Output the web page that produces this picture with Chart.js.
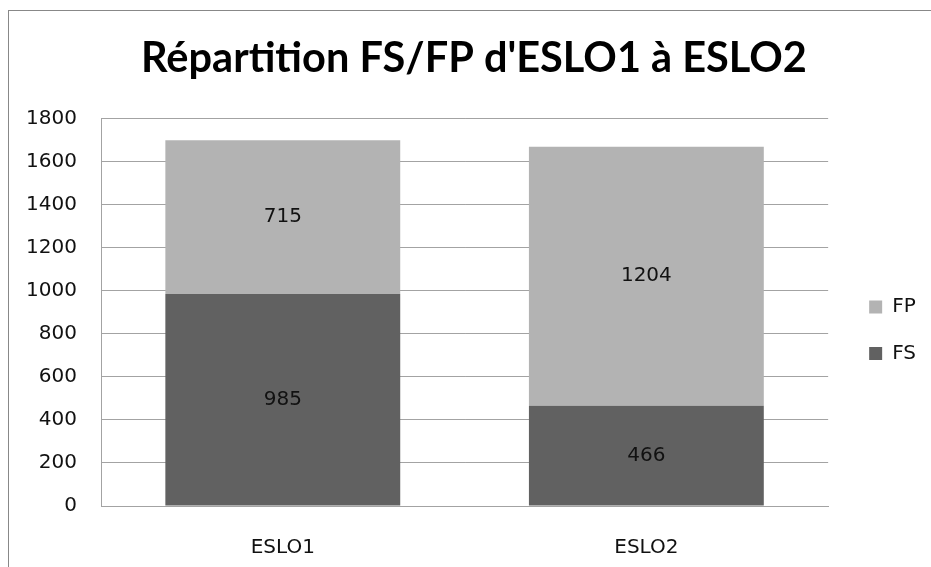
<!DOCTYPE html>
<html>
<head>
<meta charset="utf-8">
<script src="https://cdn.jsdelivr.net/npm/chart.js@4.4.1/dist/chart.umd.min.js"></script>
<style>
  html, body { margin:0; padding:0; background:#fff; overflow:hidden; }
  #wrap { position:relative; width:931px; height:567px; }
  #frame { position:absolute; left:8px; top:10px; width:1000px; height:1000px; border:1px solid #888; pointer-events:none; }
  canvas { position:absolute; left:0; top:0; }
</style>
</head>
<body>
<div id="wrap">
  <canvas id="chart" width="931" height="567"></canvas>
  <div id="frame"></div>
</div>
<script>
const categories = ['ESLO1', 'ESLO2'];
const fsValues = [985, 466];
const fpValues = [715, 1204];
const yMin = 0;
const yMax = 1800;
const yStep = 200;

const gridColor = '#a3a3a3';
const smallFont = {family:'"DejaVu Sans"', size:20};

// value in the middle of each bar segment
const barLabels = {
  id:'barLabels',
  afterDatasetsDraw(chart) {
    const ctx = chart.ctx;
    ctx.save();
    ctx.font = '20px "DejaVu Sans"';
    ctx.fillStyle = '#111';
    ctx.textAlign = 'center';
    ctx.textBaseline = 'middle';
    chart.data.datasets.forEach((ds, i) => {
      chart.getDatasetMeta(i).data.forEach((bar, j) => {
        const {x, y, base} = bar.getProps(['x','y','base'], true);
        ctx.fillText(ds.data[j], x, (y + base) / 2);
      });
    });
    ctx.restore();
  }
};

new Chart(document.getElementById('chart'), {
  type:'bar',
  data:{
    labels:categories,
    datasets:[
      {label:'FS', data:fsValues, backgroundColor:'#616161', borderWidth:0, categoryPercentage:1, barPercentage:0.646},
      {label:'FP', data:fpValues, backgroundColor:'#b3b3b3', borderWidth:0, categoryPercentage:1, barPercentage:0.646}
    ]
  },
  options:{
    responsive:false,
    animation:false,
    layout:{padding:{left:22, right:5, top:0, bottom:0}},
    plugins:{
      title:{
        display:true,
        text:"Répartition FS/FP d'ESLO1 à ESLO2",
        color:'#000',
        font:{family:'Lato', size:41.5, weight:'bold'},
        padding:{top:34, bottom:35}
      },
      legend:{
        position:'right',
        fullSize:false,
        reverse:true,
        title:{display:true, text:' ', font:{size:10}, padding:{top:9, bottom:0}},
        labels:{
          color:'#111',
          font:{family:'"DejaVu Sans"', size:20, lineHeight:0.275},
          boxWidth:13,
          boxHeight:13,
          padding:41,
          generateLabels(chart) {
            return Chart.defaults.plugins.legend.labels.generateLabels(chart).map(l => ({...l, text:[l.text]}));
          }
        }
      },
      tooltip:{enabled:false}
    },
    scales:{
      x:{
        stacked:true,
        grid:{display:false},
        border:{display:true, color:gridColor},
        ticks:{color:'#111', font:smallFont, padding:22},
        afterFit:s => { s.height = 61; }
      },
      y:{
        stacked:true,
        min:yMin,
        max:yMax,
        grid:{color:gridColor, drawTicks:false},
        border:{display:true, color:gridColor},
        ticks:{stepSize:yStep, color:'#111', font:smallFont, padding:24, callback:v => String(v)},
        afterFit:s => { s.width = 79; }
      }
    }
  },
  plugins:[barLabels]
});
</script>
</body>
</html>
